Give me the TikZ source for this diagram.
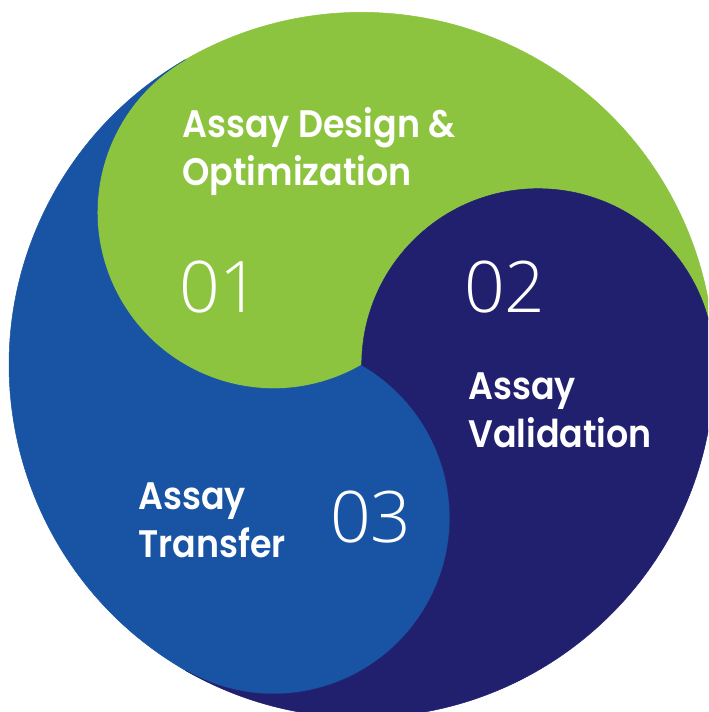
\documentclass[tikz,border=0pt]{standalone}
\usepackage{fontspec}
\setmainfont{Poppins}[BoldFont={Poppins SemiBold}, FakeStretch=0.91]
\newfontfamily\numfont{Open Sans Light}
\begin{document}
\begin{tikzpicture}[line join=round]
  \definecolor{cgreen}{HTML}{8CC43F}
  \definecolor{cblue}{HTML}{1854A3}
  \definecolor{cnavy}{HTML}{21206F}
  \tikzset{
    steptitle/.style={white, font=\bfseries\fontsize{21.8}{27.3}\selectfont, align=left, anchor=north west, inner sep=0pt},
    stepnum/.style={white, font=\numfont\fontsize{40.5}{40.5}\selectfont, anchor=base west, inner sep=0pt}
  }
  \useasboundingbox (-7.234,-6.94) rectangle (6.926,7.30);
  \clip (-7.234,-6.94) rectangle (6.926,7.30);
  \def\R{7.052}
  \def\r{3.526}
  % three interlocking blades, each turned by 120 degrees
  \foreach \a/\c in {0/cgreen, 120/cblue, 240/cnavy}
    \fill[\c, draw=\c, line width=0.3pt, rotate=\a]
      (120:\R) arc[start angle=120, end angle=0, radius=\R]
      arc[start angle=0, end angle=180, radius=\r]
      arc[start angle=-60, end angle=-240, radius=\r] -- cycle;
  % labels
  \node[steptitle] (title1) at (-3.594,5.16) {Assay Design \&\\Optimization};
  \node[stepnum] (num1) at (-3.66,1.04) {01};
  \node[stepnum] (num2) at (2.04,1.04) {02};
  \node[steptitle] (title2) at (2.126,-0.14) {Assay\\Validation};
  \node[steptitle] (title3) at (-4.474,-2.34) {Assay\\Transfer};
  \node[stepnum] (num3) at (-0.64,-3.54) {03};
\end{tikzpicture}
\end{document}
